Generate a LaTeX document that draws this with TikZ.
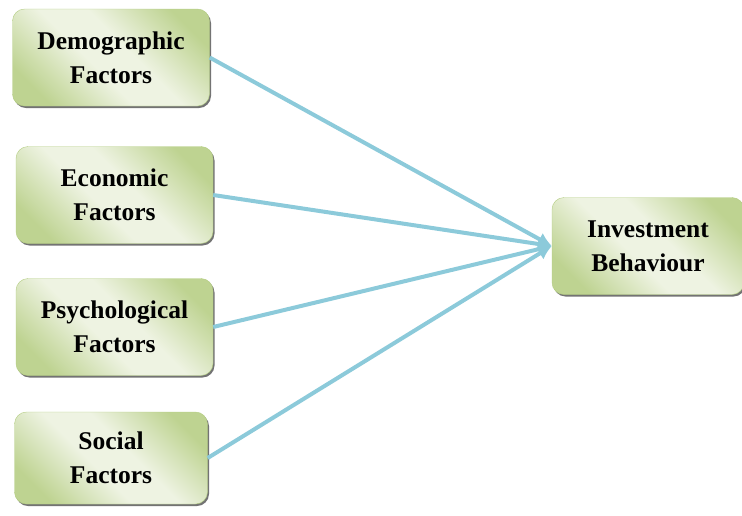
\documentclass[tikz,border=0pt]{standalone}
\usepackage{fontspec}
\setmainfont{Liberation Serif}
\usetikzlibrary{arrows.meta,shadows}

\definecolor{gdark}{RGB}{190,211,145}
\definecolor{glight}{RGB}{238,243,226}
\definecolor{gline}{RGB}{178,204,128}
\definecolor{arrowblue}{RGB}{140,202,218}
\pgfdeclarehorizontalshading{boxshade}{100bp}{color(0bp)=(gdark); color(24bp)=(gdark); color(44bp)=(glight); color(56bp)=(glight); color(76bp)=(gdark); color(100bp)=(gdark)}

\tikzset{
  factor/.style={draw=gline,rounded corners=12pt,shading=boxshade,shading angle=45,
    minimum width=197pt,minimum height=97pt,align=center,
    font=\fontsize{25.5}{34}\selectfont\bfseries,
    drop shadow={shadow xshift=1.5pt,shadow yshift=-2pt,fill=black!55,opacity=1}},
  link/.style={-{Latex[length=14pt,width=14pt]},draw=arrowblue,line width=4pt}
}

\begin{document}
\begin{tikzpicture}[x=1pt,y=-1pt]
\useasboundingbox (0,0) rectangle (742,515);
\node[factor] (dem) at (111,57.5) {Demographic\\Factors};
\node[factor] (eco) at (114.5,195) {Economic\\Factors};
\node[factor] (psy) at (114.5,327) {Psychological\\Factors};
\node[factor,minimum width=193pt,minimum height=92pt] (soc) at (111,458) {Social\\Factors};
\node[factor,minimum width=192pt] (inv) at (648,246) {Investment\\Behaviour};
% connectors
\draw[link] (dem.east) -- (inv.west);
\draw[link] (eco.east) -- (inv.west);
\draw[link] (psy.east) -- (inv.west);
\draw[link] (soc.east) -- (inv.west);
\end{tikzpicture}
\end{document}
